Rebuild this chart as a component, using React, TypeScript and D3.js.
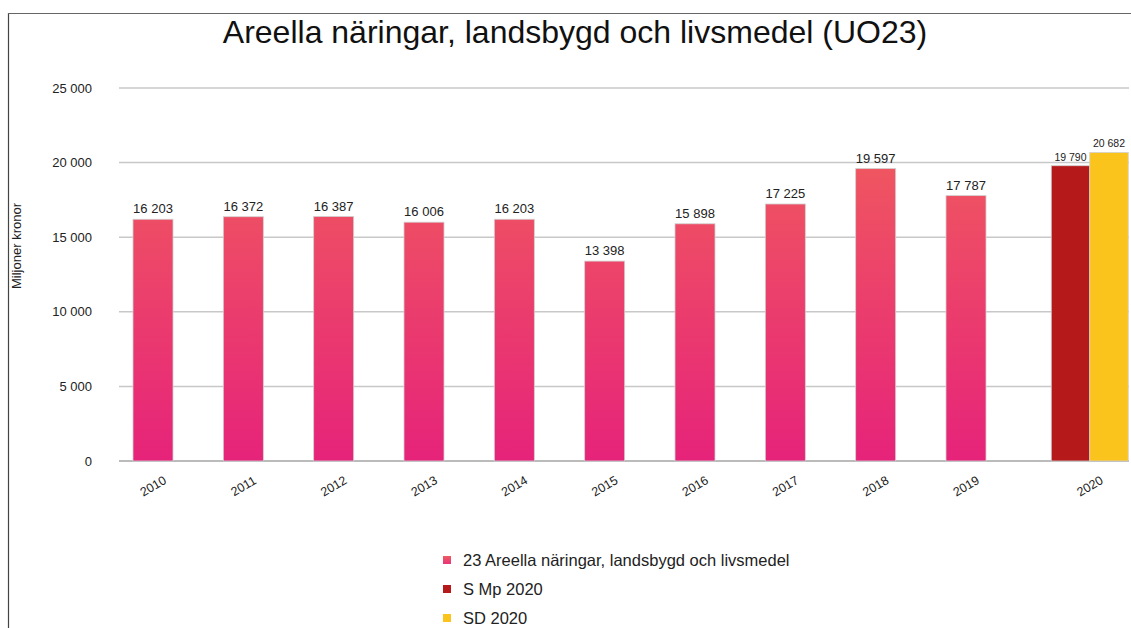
import React from 'react';
import * as d3 from 'd3';

// Budget per year (miljoner kronor)
const years = [2010, 2011, 2012, 2013, 2014, 2015, 2016, 2017, 2018, 2019];
const values = [16203, 16372, 16387, 16006, 16203, 13398, 15898, 17225, 19597, 17787];

// 2020 proposals
const proposals2020 = ['S Mp 2020', 'SD 2020'];
const proposalValues = [19790, 20682];
const proposalColors = ['#B5191A', '#FBC41C'];

const yTicks = [0, 5000, 10000, 15000, 20000, 25000];
const legendLabels = ['23 Areella näringar, landsbygd och livsmedel', 'S Mp 2020', 'SD 2020'];

const W = 1131;
const H = 628;
const font = "'Liberation Sans', Arial, sans-serif";

const fmt = d3.formatLocale({ decimal: ',', thousands: ' ', grouping: [3], currency: ['', ' kr'] }).format(',d');

export default function App() {
  const y = d3.scaleLinear().domain([0, 25000]).range([461, 88]);
  const x = d3.scaleLinear().domain([2010, 2019]).range([153, 966]);
  const barW = 40;
  const x2020 = x(2020.37);
  const subW = 38.5;

  return (
    <svg width={W} height={H} style={{ position: 'absolute', left: 0, top: 0, background: '#fff' }}>
      <defs>
        <linearGradient id="pinkGrad" gradientUnits="userSpaceOnUse" x1="0" y1={y(25000)} x2="0" y2={y(0)}>
          <stop offset="0%" stopColor="#F2635A" />
          <stop offset="100%" stopColor="#E6237A" />
        </linearGradient>
        <linearGradient id="legendGrad" x1="0" y1="0" x2="0" y2="1">
          <stop offset="0%" stopColor="#EE5B61" />
          <stop offset="100%" stopColor="#E8337A" />
        </linearGradient>
      </defs>

      {/* frame */}
      <line x1={8.5} y1={13} x2={8.5} y2={H} stroke="#444" strokeWidth={1.2} />
      <line x1={8} y1={13.5} x2={W} y2={13.5} stroke="#666" strokeWidth={1} />

      <text x={575} y={43} textAnchor="middle" fontFamily={font} fontSize={32} fill="#111">
        Areella näringar, landsbygd och livsmedel (UO23)
      </text>

      {/* grid */}
      {yTicks.map(t => (
        <g key={t}>
          <line x1={119} x2={1129} y1={y(t)} y2={y(t)} stroke={t === 0 ? '#bbb' : '#c8c8c8'} strokeWidth={t === 0 ? 2 : 1.5} />
          <text x={92} y={y(t)} dy="0.35em" textAnchor="end" fontFamily={font} fontSize={13} fill="#222">
            {fmt(t)}
          </text>
        </g>
      ))}

      <text
        transform={`translate(21, 246) rotate(-90)`}
        textAnchor="middle"
        fontFamily={font}
        fontSize={13}
        fill="#222"
      >
        Miljoner kronor
      </text>

      {/* yearly bars */}
      {years.map((yr, i) => (
        <g key={yr}>
          <rect
            x={x(yr) - barW / 2}
            y={y(values[i])}
            width={barW}
            height={y(0) - y(values[i])}
            fill="url(#pinkGrad)"
            stroke="#d0d0d0"
            strokeWidth={0.8}
          />
          <text x={x(yr)} y={y(values[i]) - 6} textAnchor="middle" fontFamily={font} fontSize={13} fill="#222">
            {fmt(values[i])}
          </text>
          <text
            transform={`translate(${x(yr)}, 486) rotate(-30)`}
            textAnchor="middle"
            dy="0.35em"
            fontFamily={font}
            fontSize={12.5}
            fill="#222"
          >
            {yr}
          </text>
        </g>
      ))}

      {/* 2020 group */}
      {proposalValues.map((v, i) => {
        const bx = x2020 - subW + i * subW;
        return (
          <g key={proposals2020[i]}>
            <rect
              x={bx}
              y={y(v)}
              width={subW}
              height={y(0) - y(v)}
              fill={proposalColors[i]}
              stroke="#d0d0d0"
              strokeWidth={0.8}
            />
            <text x={bx + subW / 2} y={y(v) - 5} textAnchor="middle" fontFamily={font} fontSize={10.5} fill="#222">
              {fmt(v)}
            </text>
          </g>
        );
      })}
      <text
        transform={`translate(${x2020}, 486) rotate(-30)`}
        textAnchor="middle"
        dy="0.35em"
        fontFamily={font}
        fontSize={12.5}
        fill="#222"
      >
        2020
      </text>

      {/* legend */}
      {legendLabels.map((l, i) => (
        <g key={l} transform={`translate(443, ${560 + i * 29})`}>
          <rect x={0} y={-4} width={8} height={8} fill={i === 0 ? 'url(#legendGrad)' : proposalColors[i - 1]} />
          <text x={20} y={0} dy="0.35em" fontFamily={font} fontSize={16.5} fill="#222">
            {l}
          </text>
        </g>
      ))}
    </svg>
  );
}
